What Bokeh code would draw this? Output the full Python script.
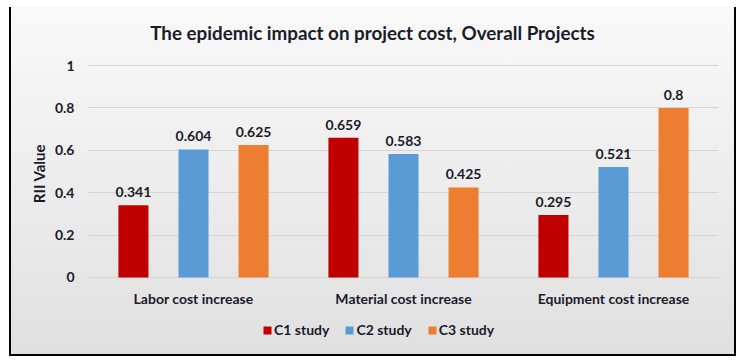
from bokeh.plotting import figure
from bokeh.models import ColumnDataSource, FactorRange, Legend, LegendItem, Label
from bokeh.transform import dodge
from bokeh.core.properties import value
from bokeh.embed import file_html
from bokeh.resources import INLINE

categories = ["Labor cost increase", "Material cost increase", "Equipment cost increase"]
series_names = ["C1 study", "C2 study", "C3 study"]
c1_values = [0.341, 0.659, 0.295]
c2_values = [0.604, 0.583, 0.521]
c3_values = [0.625, 0.425, 0.8]
y_ticks = [0, 0.2, 0.4, 0.6, 0.8, 1]
colors = ["#C00000", "#5B9BD5", "#ED7D31"]
title_text = "The epidemic impact on project cost, Overall Projects"

FONT = "Lato"
TXT = "#1b1b2a"

# frame spans 332 px: 212 px for 0..1, 58 px above for the title, 62 px below for labels/legend
p = figure(width=727, height=349, x_range=FactorRange(*categories, range_padding=0),
           y_range=(-0.2925, 1.2736), output_backend="svg", toolbar_location=None,
           min_border_left=77, min_border_right=20, min_border_top=0, min_border_bottom=17)
p.margin = (7, 0, 0, 9)
p.background_fill_alpha = 0
p.border_fill_alpha = 0
p.outline_line_color = None
p.styles = {"background": "linear-gradient(#f9f9f9, #e0e0e0)",
            "border-left": "2px solid #000", "border-right": "2px solid #000",
            "border-bottom": "2px solid #000", "box-sizing": "border-box"}

offsets = [-0.286, 0.0, 0.286]
all_vals = [c1_values, c2_values, c3_values]
renderers = []
for vals, off, col in zip(all_vals, offsets, colors):
    src = ColumnDataSource(dict(cat=categories, val=vals, lab=[str(v) for v in vals]))
    r = p.vbar(x=dodge("cat", off, range=p.x_range), top="val", width=0.143, source=src,
               fill_color=col, line_color=None)
    renderers.append(r)
    p.text(x=dodge("cat", off, range=p.x_range), y="val", text="lab", source=src,
           text_align="center", text_baseline="bottom", y_offset=-8,
           text_font=value(FONT), text_font_style="bold", text_font_size="14px", text_color=TXT)

p.xgrid.grid_line_color = None
p.ygrid.grid_line_color = "#d4d4d4"
p.ygrid.ticker = y_ticks
p.yaxis.ticker = y_ticks
p.yaxis.major_label_overrides = {0: "0", 1: "1"}
p.xaxis.fixed_location = 0
for ax in (p.xaxis[0], p.yaxis[0]):
    ax.axis_line_color = None
    ax.major_tick_line_color = None
    ax.minor_tick_line_color = None
    ax.major_label_text_font = FONT
    ax.major_label_text_font_style = "bold"
    ax.major_label_text_font_size = "14px"
    ax.major_label_text_color = TXT
p.xaxis.major_label_standoff = 7
p.yaxis.major_label_standoff = 8
p.yaxis.axis_label = "RII Value"
p.yaxis.axis_label_text_font = FONT
p.yaxis.axis_label_text_font_style = "bold"
p.yaxis.axis_label_text_font_size = "15px"
p.yaxis.axis_label_text_color = TXT
p.yaxis.axis_label_standoff = 4

p.add_layout(Label(x=284, x_units="screen", y=1.156, y_units="data", text=title_text,
                   text_align="center", text_baseline="alphabetic",
                   text_font=FONT, text_font_style="bold", text_font_size="18.8px",
                   text_color=TXT))

legend = Legend(items=[LegendItem(label=n, renderers=[r]) for n, r in zip(series_names, renderers)],
                orientation="horizontal", location=(174, 1),
                label_text_font=FONT, label_text_font_style="bold", label_text_font_size="14px",
                label_text_color=TXT, glyph_width=10, glyph_height=10, spacing=15,
                label_standoff=2, background_fill_alpha=0, border_line_color=None,
                padding=0, margin=0)
p.add_layout(legend, "center")

open("out.html", "w").write(file_html(p, INLINE))
